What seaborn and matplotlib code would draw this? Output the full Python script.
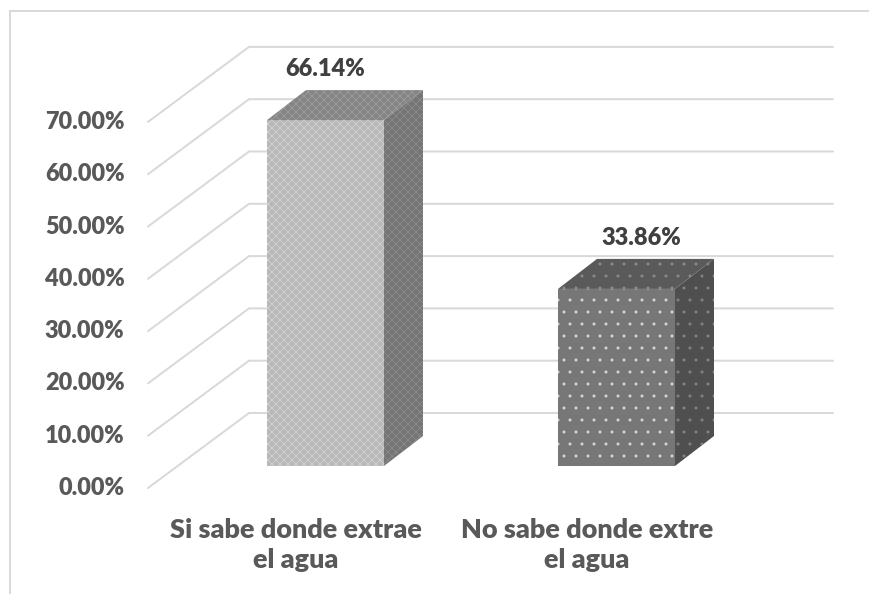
import matplotlib
matplotlib.use("Agg")
import matplotlib.pyplot as plt
from matplotlib.patches import Polygon
import pandas as pd
import seaborn as sns

categories = ["Si sabe donde extrae\nel agua", "No sabe donde extre\nel agua"]
values = [66.14, 33.86]
value_labels = ["66.14%", "33.86%"]
grid_values = [0, 10, 20, 30, 40, 50, 60, 70]
tick_labels = ["0.00%", "10.00%", "20.00%", "30.00%", "40.00%", "50.00%", "60.00%", "70.00%"]

W, H = 869, 594
DPI = 72
PX = 5.23  # pixels per percentage point
WEIGHT = "heavy"

sns.set_theme(style="white")
plt.rcParams["font.family"] = ["Lato", "DejaVu Sans"]
plt.rcParams["hatch.linewidth"] = 0.5

fig = plt.figure(figsize=(W / DPI, H / DPI), dpi=DPI)

# wall: x in pixels, y in percent (front plane of the floor at pixel row 488)
wall = fig.add_axes([0, 0, 1, 1])
wall.set_xlim(0, W)
wall.set_ylim(-(H - 488) / PX, 488 / PX)
wall.patch.set_alpha(0)
for s in wall.spines.values():
    s.set_visible(False)
GRID = "#d9d9d9"
for v in grid_values:
    wall.plot([148, 249, 833], [v, v + 75 / PX, v + 75 / PX], color=GRID, lw=2, solid_joinstyle="miter", zorder=1)
wall.set_xticks([])
wall.set_yticks([])
for v, lab in zip(grid_values, tick_labels):
    wall.text(124.5, v, lab, ha="right", va="center", fontsize=23.5, fontweight=WEIGHT, color="#595959")
for x, lab in zip([295.5, 587], categories):
    wall.text(x, -(545 - 488) / PX, lab, ha="center", va="center", fontsize=27, fontweight=WEIGHT,
              color="#595959", linespacing=1.28)

# chart-area frame: left and top edges only
top_y = (488 - 10.5) / PX
wall.plot([10, 10, W], [-(H - 488) / PX, top_y, top_y], color=GRID, lw=2, solid_joinstyle="miter", zorder=0)

# bars: categorical x, y in percent (base at pixel row 466)
ax = fig.add_axes([0, 0, 1, 1])
ax.patch.set_alpha(0)
df = pd.DataFrame({"cat": categories, "val": values})
sns.barplot(data=df, x="cat", y="val", ax=ax, width=117 / 291, color="#c0c0c0", saturation=1)
ax.set_xlim(-325.5 / 291, (W - 325.5) / 291)
ax.set_ylim(-(H - 466) / PX, 466 / PX)
ax.axis("off")

styles = [
    dict(front="#b8b8b8", side="#757575", top="#858585", hatch="xxx", hc="#e0e0e0", hc2="#969696", hc3="#a8a8a8"),
    dict(front="#777777", side="#4f4f4f", top="#5a5a5a", hatch=".", hc="#d8d8d8", hc2="#858585", hc3="#8c8c8c"),
]
dx = 39 / 291
dy = 30 / PX
for bar, st in zip(ax.patches, styles):
    x0, w, h = bar.get_x(), bar.get_width(), bar.get_height()
    bar.set_facecolor(st["front"])
    bar.set_edgecolor(st["hc"])
    bar.set_hatch(st["hatch"])
    bar.set_linewidth(0)
    x1 = x0 + w
    ax.add_patch(Polygon([(x1, 0), (x1 + dx, dy), (x1 + dx, h + dy), (x1, h)], closed=True,
                         facecolor=st["side"], edgecolor=st["hc2"], hatch=st["hatch"], lw=0))
    ax.add_patch(Polygon([(x0, h), (x1, h), (x1 + dx, h + dy), (x0 + dx, h + dy)], closed=True,
                         facecolor=st["top"], edgecolor=st["hc3"], hatch=st["hatch"], lw=0))

bars = list(ax.patches)[:2]
for bar, lab, off in zip(bars, value_labels, [0, 25]):
    ax.annotate(lab, (bar.get_x() + bar.get_width() / 2, bar.get_height()), xytext=(off, 51),
                textcoords="offset points", ha="center", va="center", fontsize=23.5,
                fontweight=WEIGHT, color="#404040")

fig.savefig("out.png", dpi=DPI, facecolor="white")
